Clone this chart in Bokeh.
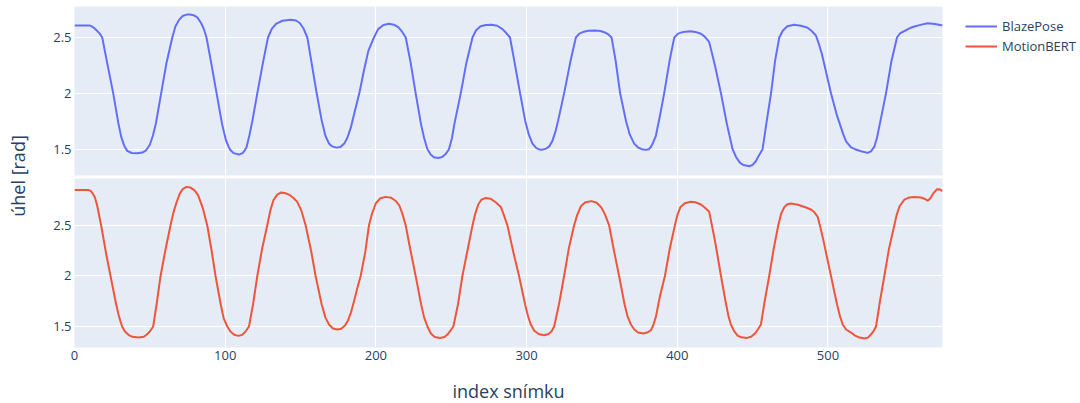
import math
from bokeh.plotting import figure
from bokeh.models import (Range1d, Legend, LegendItem, Label, CustomJSTickFormatter,
                          FixedTicker)
from bokeh.layouts import row, column
from bokeh.embed import file_html
from bokeh.resources import INLINE

# ---------------- data ----------------
series_names = ["BlazePose", "MotionBERT"]

frames_blazepose = [
    0, 10, 11.5, 13, 15, 17, 18.4, 22, 25.7, 29, 31, 33, 35, 38, 41.6, 45, 47.5, 50, 52, 54, 57.5, 61, 64.9,
    67, 69.5, 72, 74.5, 76.6, 79, 81.5, 84, 86, 87.6, 91, 94.3, 98, 100.5, 103, 105.5, 109.1, 111.5, 113,
    114.2, 116, 118, 121.3, 125, 128.4, 131, 134, 138, 143.4, 147, 149.5, 152, 154.5, 157, 160.7, 164, 166.5,
    168.9, 171, 173.8, 176.5, 179, 181, 183.5, 186, 189, 192, 195, 198.7, 201.5, 205, 208.7, 212, 215, 217.5,
    219.8, 223, 226.4, 230, 232, 234.2, 236.5, 238.5, 241.3, 244, 246.5, 248.5, 250.5, 252, 256.3, 260, 264.1,
    266.5, 269.5, 273, 276.7, 280.5, 284, 286.5, 289, 292, 295.7, 299, 301.5, 303.9, 306.5, 308.5, 310.5, 313,
    315, 317, 319, 321, 324.9, 329, 332.7, 335, 338, 341, 345.3, 349, 352, 354.5, 356.4, 359, 362.1, 366,
    368.5, 371.4, 374, 376.5, 379.2, 381, 382.5, 384, 385.8, 388.5, 391.3, 395, 398, 400.5, 404, 408.6, 412,
    415.7, 418, 420, 421.2, 423, 425, 429, 433, 436.7, 439, 441.5, 444, 447.8, 450, 452, 454, 456.6, 459,
    462.2, 465, 467.7, 470, 473, 477.6, 482, 486.5, 489, 492, 494, 496, 502, 506, 508.5, 510, 512, 515.3, 518,
    522, 526.3, 528.5, 530.7, 532.5, 534, 538.5, 542, 545.8, 548, 551.8, 554.5, 557.3, 562, 566.2, 571, 576]
angle_blazepose = [
    2.607, 2.608, 2.6, 2.585, 2.56, 2.53, 2.5, 2.25, 2.0, 1.74, 1.61, 1.53, 1.485, 1.466, 1.463, 1.47, 1.49,
    1.54, 1.62, 1.73, 2.0, 2.27, 2.5, 2.6, 2.66, 2.695, 2.705, 2.706, 2.7, 2.68, 2.63, 2.57, 2.5, 2.25, 2.0,
    1.72, 1.58, 1.5, 1.465, 1.452, 1.465, 1.49, 1.52, 1.62, 1.75, 2.0, 2.27, 2.5, 2.58, 2.625, 2.65, 2.659,
    2.652, 2.63, 2.58, 2.5, 2.3, 2.0, 1.76, 1.62, 1.55, 1.525, 1.514, 1.52, 1.55, 1.6, 1.7, 1.84, 2.0, 2.2,
    2.38, 2.5, 2.575, 2.612, 2.623, 2.615, 2.59, 2.55, 2.5, 2.28, 2.0, 1.72, 1.6, 1.5, 1.45, 1.428, 1.422,
    1.43, 1.46, 1.5, 1.6, 1.72, 2.0, 2.27, 2.5, 2.565, 2.6, 2.612, 2.614, 2.605, 2.575, 2.54, 2.5, 2.28, 2.0,
    1.76, 1.63, 1.55, 1.51, 1.498, 1.496, 1.505, 1.525, 1.57, 1.65, 1.76, 2.0, 2.28, 2.5, 2.535, 2.552, 2.56,
    2.563, 2.558, 2.545, 2.525, 2.5, 2.3, 2.0, 1.75, 1.63, 1.55, 1.515, 1.5, 1.494, 1.5, 1.52, 1.56, 1.62,
    1.8, 2.0, 2.3, 2.5, 2.535, 2.55, 2.556, 2.55, 2.533, 2.51, 2.48, 2.458, 2.36, 2.25, 2.0, 1.72, 1.5, 1.43,
    1.38, 1.358, 1.347, 1.36, 1.39, 1.44, 1.5, 1.72, 2.0, 2.3, 2.5, 2.56, 2.6, 2.614, 2.605, 2.587, 2.56,
    2.518, 2.44, 2.35, 2.0, 1.8, 1.7, 1.64, 1.57, 1.517, 1.5, 1.482, 1.467, 1.48, 1.52, 1.6, 1.7, 2.0, 2.28,
    2.5, 2.54, 2.565, 2.585, 2.599, 2.615, 2.628, 2.62, 2.608]

frames_motionbert = [
    0, 9, 10.5, 12, 13.5, 15, 17.7, 21, 23.9, 27.5, 29.5, 31.6, 33.5, 36, 38.5, 42.7, 46, 48, 50, 52.2, 54.5,
    57.1, 60.5, 63.7, 65.5, 67.5, 70, 72, 74.4, 77, 79.5, 82, 85, 88.1, 91, 93.6, 97, 99, 101.4, 103.5, 106,
    108.7, 111, 113, 115.8, 118.5, 121.3, 124.5, 127.9, 130, 132, 134.5, 137.2, 140, 143, 145.5, 147.8, 150.5,
    153.4, 157, 160, 164, 166.5, 168.9, 171.5, 174.4, 177, 179.5, 181.5, 183.5, 185.5, 187.5, 189.9, 193,
    195.4, 197.5, 200, 203, 206.5, 210, 213, 215.5, 217.5, 219.8, 223, 226.4, 230, 232, 234.2, 236.5, 239,
    242.6, 245.5, 247.5, 249.5, 251.4, 254.5, 257.4, 261, 264.1, 266, 268, 270, 272.9, 276, 279.5, 282.9, 285,
    287.3, 291, 295, 299, 301, 302.8, 305, 308, 311.6, 314.5, 316.5, 318.3, 321.5, 324.9, 328, 331.5, 333.5,
    336, 339, 343.1, 346.5, 349.5, 352, 354.8, 358, 361.4, 365, 367, 369.2, 371.5, 374, 377.6, 380, 382.5,
    384, 385.8, 388.5, 391.8, 395, 398.4, 400, 402, 405, 409, 412, 415.7, 418, 421.2, 423, 425, 429, 432, 434,
    435.6, 437.5, 440, 442.5, 446.2, 449, 451.5, 453.5, 455.5, 458, 461, 464, 467, 469, 471, 473, 475.4, 480,
    485, 488.7, 491, 493.2, 495, 497, 502, 506, 508, 509.8, 512, 515.3, 518, 521, 524.1, 526.5, 528.5, 530.5,
    531.9, 534.5, 537.4, 540.5, 544, 545.5, 547.5, 550.7, 554, 557.3, 561.7, 564, 566.2, 568, 570, 572.4,
    574.5, 576]
angle_motionbert = [
    2.85, 2.851, 2.845, 2.82, 2.78, 2.7, 2.5, 2.22, 2.0, 1.73, 1.6, 1.5, 1.45, 1.415, 1.398, 1.391, 1.398,
    1.42, 1.45, 1.5, 1.72, 2.0, 2.27, 2.5, 2.62, 2.72, 2.82, 2.862, 2.882, 2.875, 2.85, 2.8, 2.68, 2.5, 2.25,
    2.0, 1.72, 1.58, 1.5, 1.45, 1.418, 1.407, 1.415, 1.44, 1.5, 1.72, 2.0, 2.27, 2.5, 2.65, 2.75, 2.805,
    2.827, 2.82, 2.8, 2.77, 2.734, 2.65, 2.5, 2.25, 2.0, 1.72, 1.59, 1.52, 1.48, 1.47, 1.478, 1.51, 1.56,
    1.64, 1.75, 1.87, 2.0, 2.24, 2.5, 2.62, 2.72, 2.77, 2.783, 2.775, 2.745, 2.7, 2.62, 2.5, 2.25, 2.0, 1.72,
    1.59, 1.5, 1.43, 1.395, 1.387, 1.395, 1.42, 1.46, 1.5, 1.72, 2.0, 2.27, 2.5, 2.62, 2.71, 2.755, 2.773,
    2.765, 2.73, 2.684, 2.6, 2.5, 2.25, 2.0, 1.72, 1.6, 1.52, 1.46, 1.425, 1.414, 1.425, 1.45, 1.5, 1.72, 2.0,
    2.27, 2.5, 2.6, 2.69, 2.73, 2.741, 2.725, 2.68, 2.61, 2.5, 2.25, 2.0, 1.72, 1.6, 1.52, 1.47, 1.44, 1.431,
    1.44, 1.463, 1.51, 1.595, 1.8, 2.0, 2.27, 2.5, 2.6, 2.68, 2.72, 2.734, 2.73, 2.708, 2.68, 2.635, 2.5,
    2.35, 2.0, 1.75, 1.6, 1.52, 1.46, 1.41, 1.393, 1.387, 1.398, 1.43, 1.47, 1.52, 1.75, 2.0, 2.27, 2.5, 2.62,
    2.68, 2.71, 2.718, 2.705, 2.68, 2.658, 2.63, 2.585, 2.48, 2.35, 2.0, 1.72, 1.6, 1.52, 1.47, 1.44, 1.41,
    1.39, 1.381, 1.39, 1.42, 1.46, 1.5, 1.75, 2.0, 2.27, 2.5, 2.6, 2.69, 2.755, 2.778, 2.783, 2.777, 2.765,
    2.745, 2.77, 2.82, 2.859, 2.855, 2.84]

x_ticks = [0, 100, 200, 300, 400, 500]
y_ticks = [1.5, 2, 2.5]
x_title = "index snímku"
y_title = "úhel [rad]"

# ---------------- style ----------------
FONT = "Open Sans"
TXT = "#2a3f5f"
BG = "#E5ECF6"
BLUE = "#636efa"
RED = "#EF553B"

fmt = CustomJSTickFormatter(code="return tick.toString();")


def style(p):
    p.background_fill_color = BG
    p.border_fill_color = "white"
    p.outline_line_color = None
    p.grid.grid_line_color = "white"
    p.grid.grid_line_width = 1
    p.xgrid.ticker = FixedTicker(ticks=x_ticks)
    p.ygrid.ticker = FixedTicker(ticks=y_ticks)
    for ax in p.axis:
        ax.axis_line_color = None
        ax.major_tick_line_color = None
        ax.minor_tick_line_color = None
        ax.major_tick_out = 0
        ax.major_tick_in = 0
        ax.major_label_text_font = FONT
        ax.major_label_text_font_size = "13px"
        ax.major_label_text_color = TXT
        ax.major_label_standoff = 3
        ax.formatter = fmt
    p.xaxis.ticker = FixedTicker(ticks=x_ticks)
    p.yaxis.ticker = FixedTicker(ticks=y_ticks)


top = figure(frame_width=868, frame_height=169, min_border_left=36, min_border_top=6,
             min_border_bottom=3, min_border_right=138,
             x_range=Range1d(0, 576), y_range=Range1d(1.2645, 2.7775),
             toolbar_location=None, output_backend="svg")
style(top)
top.xaxis.visible = False
r_bp = top.line(frames_blazepose, angle_blazepose, line_color=BLUE, line_width=2, line_join="round")
# legend proxy for the second subplot's series (holds no visible point)
r_proxy = top.line(x=[float("nan")], y=[float("nan")], line_color=RED, line_width=2)

legend = Legend(items=[LegendItem(label=series_names[0], renderers=[r_bp]),
                       LegendItem(label=series_names[1], renderers=[r_proxy])],
                location=(23, 119.5), padding=0, margin=0, spacing=0,
                glyph_width=32, glyph_height=20, label_height=20, label_standoff=5,
                border_line_color=None, background_fill_alpha=0,
                label_text_font=FONT, label_text_font_size="13px", label_text_color=TXT)
top.add_layout(legend, "right")

bot = figure(frame_width=868, frame_height=169, min_border_left=36, min_border_top=0,
             min_border_bottom=56, min_border_right=10,
             x_range=Range1d(0, 576), y_range=Range1d(1.292, 2.965),
             toolbar_location=None, output_backend="svg")
style(bot)
bot.line(frames_motionbert, angle_motionbert, line_color=RED, line_width=2, line_join="round")
bot.xaxis.axis_label = x_title
bot.xaxis.axis_label_text_font = FONT
bot.xaxis.axis_label_text_font_size = "18px"
bot.xaxis.axis_label_text_font_style = "normal"
bot.xaxis.axis_label_text_color = TXT
bot.xaxis.axis_label_standoff = 16

lab = figure(width=38, height=403, min_border=0, x_range=Range1d(0, 38), y_range=Range1d(0, 403),
             toolbar_location=None, output_backend="svg")
lab.axis.visible = False
lab.grid.visible = False
lab.outline_line_color = None
lab.background_fill_color = "white"
lab.add_layout(Label(x=17, y=227.5, text=y_title, angle=math.pi / 2, text_align="center",
                     text_baseline="middle", text_font=FONT, text_font_size="18px",
                     text_color=TXT))

layout = row(lab, column(top, bot))

with open("out.html", "w") as f:
    f.write(file_html(layout, INLINE))
